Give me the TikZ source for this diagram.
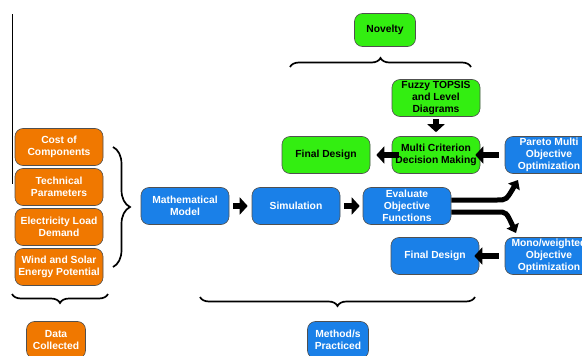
\documentclass[tikz,border=0pt]{standalone}
\usepackage{fontspec}
\setmainfont{Liberation Sans}
\usetikzlibrary{arrows.meta,decorations.pathreplacing}
\definecolor{orng}{HTML}{F07800}
\definecolor{blu}{HTML}{1A80E8}
\definecolor{grn}{HTML}{33EE11}
\definecolor{edg}{HTML}{505050}
\begin{document}
\begin{tikzpicture}[x=1pt,y=-1pt,
  box/.style={draw=edg,line width=0.6pt,rounded corners=8pt,align=center,
    minimum width=88pt,minimum height=37pt,inner sep=0.5pt,
    font=\fontsize{10.3}{11.8}\selectfont\bfseries},
  ob/.style={box,fill=orng,text=white},
  bb/.style={box,fill=blu,text=white},
  gb/.style={box,fill=grn,text=black},
  blk/.style={line width=6pt,-{Triangle[length=8pt,width=17pt]}},
  fork/.style={line width=5pt,-{Triangle[length=8pt,width=13pt]}},
  brc/.style={decorate,decoration={brace,amplitude=#1},line width=1.7pt},
]
\useasboundingbox (0,0) rectangle (582,356);
% left vertical line
\draw[line width=0.8pt] (12,14) -- (12,184);
% data nodes
\node[ob] (cost) at (59,147) {Cost of\\Components};
\node[ob] (tech) at (59,187) {Technical\\Parameters};
\node[ob] (elec) at (59,227) {Electricity Load\\Demand};
\node[ob] (wind) at (59,267) {Wind and Solar\\Energy Potential};
\node[ob,minimum width=59pt] (data) at (56,340) {Data\\Collected};
% method nodes
\node[bb] (math) at (185,206) {Mathematical\\Model};
\node[bb] (sim) at (296,206) {Simulation};
\node[bb] (eval) at (407,206) {Evaluate\\Objective\\Functions};
\node[bb] (pareto) at (549,155) {Pareto Multi\\Objective\\Optimization};
\node[bb] (mono) at (549,256) {Mono/weighted\\Objective\\Optimization};
\node[bb] (fdb) at (435,256) {Final Design};
\node[bb,minimum width=61pt] (meth) at (338,340) {Method/s\\Practiced};
% novelty nodes
\node[gb] (fdg) at (326,155) {Final Design};
\node[gb] (mcdm) at (436,155) {Multi Criterion\\Decision Making};
\node[gb] (fuzzy) at (436,98) {Fuzzy TOPSIS\\and Level\\Diagrams};
\node[gb,minimum width=61pt,minimum height=33pt] (nov) at (385,30) {Novelty};
% block arrows
\draw[blk] ([xshift=4pt]math.east) -- ([xshift=-4pt]sim.west);
\draw[blk] ([xshift=4pt]sim.east) -- ([xshift=-3pt]eval.west);
\draw[blk] ([xshift=-6pt]pareto.west) -- ([xshift=-5pt]mcdm.east);
\draw[blk] ([xshift=7pt]mcdm.west) -- ([xshift=6pt]fdg.east);
\draw[blk] ([yshift=-2pt]fuzzy.south) -- ([yshift=4pt]mcdm.north);
\draw[blk] ([xshift=-6pt]mono.west) -- ([xshift=-5pt]fdb.east);
% fork
\coordinate (fku) at (518,180);
\coordinate (fkd) at (516,233);
\draw[fork] ([yshift=6pt]eval.east) -- ++(46,0) .. controls +(9,0) .. (fku);
\draw[fork] ([yshift=-6pt]eval.east) -- ++(46,0) .. controls +(9,0) .. (fkd);
% braces
\draw[brc=17pt] (113,147) -- (113,267);
\draw[brc=9pt] (108,294) -- (12,294);
\draw[brc=9pt] (475,297) -- (200,297);
\draw[brc=9pt] (290,67) -- (471,67);
\end{tikzpicture}
\end{document}
